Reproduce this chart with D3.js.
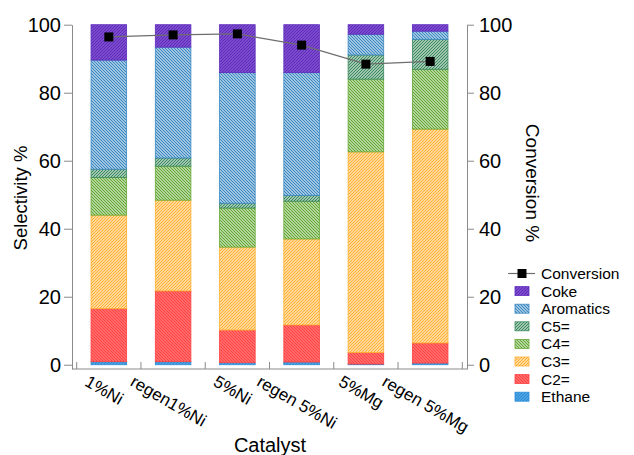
<!DOCTYPE html>
<html>
<head>
<meta charset="utf-8">
<script src="https://cdn.jsdelivr.net/npm/d3@7"></script>
<style>
body { margin: 0; background: #fff; }
svg text { font-family: "Liberation Sans", Arial, Helvetica, sans-serif; fill: #000; }
</style>
</head>
<body>
<script>
var w = 634;
var h = 455;

// data (% of each bar, bottom to top)
var categories = ["1%Ni", "regen1%Ni", "5%Ni", "regen 5%Ni", "5%Mg", "regen 5%Mg"];
var ethane = [0.9, 0.9, 0.6, 0.8, 0.2, 0.5];
var c2 = [15.6, 20.8, 9.6, 10.9, 3.4, 5.9];
var c3 = [27.5, 26.7, 24.4, 25.3, 59.0, 62.9];
var c4 = [11.1, 10.0, 11.5, 11.1, 21.4, 17.6];
var c5 = [2.4, 2.4, 1.4, 1.7, 7.1, 8.8];
var aromatics = [32.1, 32.6, 38.4, 36.1, 6.1, 2.4];
var coke = [10.4, 6.6, 14.1, 14.1, 2.8, 1.9];
var conversion = [96.4, 97.0, 97.3, 94.0, 88.4, 89.2];
var yTicks = [0, 20, 40, 60, 80, 100];

var series = [
    {key: "Ethane", values: ethane, bg: "#6cbcf0", line: "#2a8ad6", dir: "up"},
    {key: "C2=", values: c2, bg: "#ff9090", line: "#ff4242", dir: "down"},
    {key: "C3=", values: c3, bg: "#ffffff", line: "#ffb030", dir: "up"},
    {key: "C4=", values: c4, bg: "#ffffff", line: "#64a834", dir: "down"},
    {key: "C5=", values: c5, bg: "#ffffff", line: "#3a8a5e", dir: "up"},
    {key: "Aromatics", values: aromatics, bg: "#ffffff", line: "#3a88c2", dir: "down"},
    {key: "Coke", values: coke, bg: "#9868dc", line: "#5e2cbc", dir: "up"}
];

var rows = categories.map(function (c, i) {
    var r = {cat: c};
    series.forEach(function (s) { r[s.key] = s.values[i]; });
    return r;
});

var svg = d3.select("body")
    .append("svg")
    .attr("width", w)
    .attr("height", h);

// hatch patterns
var defs = svg.append("defs");
series.forEach(function (s, i) {
    var p = defs.append("pattern")
        .attr("id", "hatch" + i)
        .attr("patternUnits", "userSpaceOnUse")
        .attr("width", 3)
        .attr("height", 3);
    p.append("rect").attr("width", 3).attr("height", 3).attr("fill", s.bg);
    var d = s.dir === "up"
        ? "M-1,1 L1,-1 M0,3 L3,0 M2,4 L4,2"
        : "M-1,2 L1,4 M0,0 L3,3 M2,-1 L4,1";
    p.append("path").attr("d", d)
        .attr("stroke", s.line)
        .attr("stroke-width", 1.4);
});

var x = d3.scaleBand()
    .domain(categories)
    .range([76.7, 462.3])
    .paddingInner(0.446)
    .paddingOuter(0.223);

var y = d3.scaleLinear()
    .domain([-1.25, 100])
    .range([369, 24.7]);

var stack = d3.stack().keys(series.map(function (s) { return s.key; }));
var stacked = stack(rows);

var layers = svg.selectAll("g.layer")
    .data(stacked)
    .enter()
    .append("g")
    .attr("class", "layer");

layers.selectAll("rect")
    .data(function (d, i) { return d.map(function (v) { return {v: v, i: i}; }); })
    .enter()
    .append("rect")
    .attr("x", function (d) { return x(d.v.data.cat); })
    .attr("y", function (d) { return y(d.v[1]); })
    .attr("width", x.bandwidth())
    .attr("height", function (d) { return y(d.v[0]) - y(d.v[1]); })
    .attr("fill", function (d) { return "url(#hatch" + d.i + ")"; })
    .attr("stroke", function (d) { return series[d.i].line; })
    .attr("stroke-width", 0.8);

// axes
var axisColor = "#8a8a8a";
function styleAxis(g) {
    g.selectAll("path, line").attr("stroke", axisColor);
    g.selectAll("text")
        .style("font-size", "20px")
        .style("font-family", "'Liberation Sans', Arial, sans-serif")
        .attr("fill", "#000");
}

svg.append("g")
    .attr("transform", "translate(72,0)")
    .call(d3.axisLeft(y).tickValues(yTicks).tickSize(8).tickSizeOuter(0).tickPadding(3))
    .call(styleAxis);

svg.append("g")
    .attr("transform", "translate(467,0)")
    .call(d3.axisRight(y).tickValues(yTicks).tickSize(7).tickSizeOuter(0).tickPadding(5))
    .call(styleAxis);

// x axis line with small inward ticks at the band edges
var step = x.step();
var edges = d3.range(categories.length + 1).map(function (i) { return 76.7 + i * step; });
svg.append("line")
    .attr("x1", 72).attr("x2", 467)
    .attr("y1", 369).attr("y2", 369)
    .attr("stroke", axisColor);
svg.selectAll("line.xtick")
    .data(edges)
    .enter()
    .append("line")
    .attr("class", "xtick")
    .attr("x1", function (d) { return d; })
    .attr("x2", function (d) { return d; })
    .attr("y1", 362)
    .attr("y2", 369)
    .attr("stroke", axisColor);

// rotated category labels
var cos30 = Math.cos(Math.PI / 6);
svg.selectAll("text.xlab")
    .data(categories)
    .enter()
    .append("text")
    .attr("class", "xlab")
    .style("font-size", "17px")
    .text(function (d) { return d; })
    .attr("transform", function (d) {
        var len = this.getComputedTextLength();
        var cx = x(d) + x.bandwidth() / 2 - 7.5;
        return "translate(" + (cx - len * cos30 / 2) + ",385) rotate(30)";
    });

// conversion line + markers
var line = d3.line()
    .x(function (d, i) { return x(categories[i]) + x.bandwidth() / 2; })
    .y(function (d) { return y(d); });

svg.append("path")
    .datum(conversion)
    .attr("d", line)
    .attr("fill", "none")
    .attr("stroke", "#6e6e6e")
    .attr("stroke-width", 1.2);

svg.selectAll("rect.mark")
    .data(conversion)
    .enter()
    .append("rect")
    .attr("class", "mark")
    .attr("x", function (d, i) { return x(categories[i]) + x.bandwidth() / 2 - 4.5; })
    .attr("y", function (d) { return y(d) - 4.5; })
    .attr("width", 9)
    .attr("height", 9)
    .attr("fill", "#000");

// axis titles
svg.append("text")
    .text("Selectivity %")
    .attr("text-anchor", "middle")
    .style("font-size", "18.5px")
    .attr("transform", "translate(27,198) rotate(-90)");

svg.append("text")
    .text("Conversion %")
    .attr("text-anchor", "middle")
    .style("font-size", "19px")
    .attr("transform", "translate(526,183) rotate(90)");

svg.append("text")
    .text("Catalyst")
    .attr("text-anchor", "middle")
    .attr("x", 270)
    .attr("y", 452)
    .style("font-size", "20px");

// legend
var ly0 = 273.5;
var lstep = 17.6;
var lg = svg.append("g");
lg.append("line")
    .attr("x1", 508).attr("x2", 535)
    .attr("y1", ly0).attr("y2", ly0)
    .attr("stroke", "#6e6e6e")
    .attr("stroke-width", 1.2);
lg.append("rect")
    .attr("x", 517.5).attr("y", ly0 - 4.5)
    .attr("width", 9).attr("height", 9)
    .attr("fill", "#000");
lg.append("text")
    .text("Conversion")
    .attr("x", 541)
    .attr("y", ly0 + 5.5)
    .style("font-size", "15.5px");

var legendItems = series.slice().reverse();
legendItems.forEach(function (s, k) {
    var idx = series.indexOf(s);
    var cy = ly0 + lstep * (k + 1);
    lg.append("rect")
        .attr("x", 515).attr("y", cy - 4.5)
        .attr("width", 14).attr("height", 9)
        .attr("fill", "url(#hatch" + idx + ")")
        .attr("stroke", s.line)
        .attr("stroke-width", 0.8);
    lg.append("text")
        .text(s.key)
        .attr("x", 541)
        .attr("y", cy + 5.5)
        .style("font-size", "15.5px");
});
</script>
</body>
</html>
